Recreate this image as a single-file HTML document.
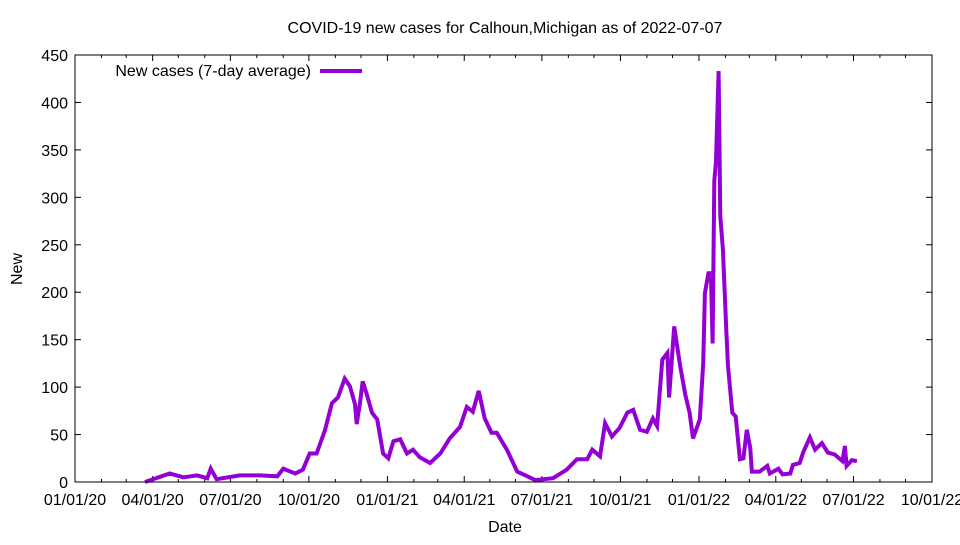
<!DOCTYPE html>
<html><head><meta charset="utf-8"><style>
body{margin:0;background:#fff;}
svg text{font-family:"Liberation Sans",sans-serif;font-size:16px;fill:#000;}
</style></head><body>
<svg id="chart" width="960" height="540">
<text x="505" y="33" text-anchor="middle">COVID-19 new cases for Calhoun,Michigan as of 2022-07-07</text>
<text x="505" y="532" text-anchor="middle">Date</text>
<text transform="translate(22,269) rotate(-90)" text-anchor="middle">New</text>
<g id="axes"></g>
<g id="series"></g>
<g>
<text x="311" y="76" text-anchor="end">New cases (7-day average)</text>
<line x1="320" y1="71" x2="362" y2="71" stroke="#9400d3" stroke-width="4"/>
</g>
<rect x="75" y="55" width="857" height="427" fill="none" stroke="#000" stroke-width="1"/>
</svg>
<script>
const days=[82,111,127,143,155,159,166,193,217,237,244,258,267,275,283,293,301,308,316,322,328,330,334,337,342,348,354,361,367,373,381,389,396,404,416,428,439,451,459,466,473,480,488,494,506,518,530,539,560,576,588,600,606,615,621,629,638,647,654,662,670,677,682,688,694,696,702,709,715,720,724,732,736,738,742,745,747,749,751,754,756,759,763,765,770,774,779,783,787,791,793,802,811,814,824,829,838,841,849,853,861,867,875,882,890,899,902,904,910,916];
const values=[0,9,5,7,4,14,3,7,7,6,14,9,13,30,30,55,83,89,109,101,82,61,84,106,92,73,66,30,25,43,45,30,34,26,20,30,46,58,79,74,96,67,52,52,34,11,6,2,4,13,24,24,34,27,62,48,57,73,76,55,53,67,59,129,136,89,164,122,92,73,46,66,125,199,220,220,146,317,338,433,280,245,160,122,73,69,24,25,55,36,11,11,17,9,14,8,9,18,20,31,47,34,41,31,29,22,38,17,23,22];
const yTicks=[0,50,100,150,200,250,300,350,400,450];
const xTickDays=[0,91,182,274,366,456,547,639,731,821,912,1004];
const xTickLabels=["01/01/20","04/01/20","07/01/20","10/01/20","01/01/21","04/01/21","07/01/21","10/01/21","01/01/22","04/01/22","07/01/22","10/01/22"];
const minorDays=[31,60,121,152,213,244,305,335,397,425,486,516,578,608,670,700,762,790,851,881,943,973];
const X0=75,X1=932,Y0=482,Y1=55,DMAX=1004,VMAX=450;
function xs(d){return X0+(d/DMAX)*(X1-X0);}
function ys(v){return Y0-(v/VMAX)*(Y0-Y1);}
const NS="http://www.w3.org/2000/svg";
const axes=document.getElementById('axes');
function mk(tag,attrs,parent){const e=document.createElementNS(NS,tag);for(const k in attrs)e.setAttribute(k,attrs[k]);parent.appendChild(e);return e;}
yTicks.forEach(v=>{
  const y=ys(v);
  const t=mk('line',{x1:X0,x2:X0+6,y1:y,y2:y,stroke:'#000'},axes);
  
  
  const t2=mk('line',{x1:X1-6,x2:X1,y1:y,y2:y,stroke:'#000'},axes);
  
  
  const l=mk('text',{x:X0-7,y:y+6,'text-anchor':'end'},axes);
  l.textContent=v;
  
  
});
xTickDays.forEach((d,i)=>{
  const x=xs(d);
  const t=mk('line',{x1:x,x2:x,y1:Y0,y2:Y0-6,stroke:'#000'},axes);
  
  
  const t2=mk('line',{x1:x,x2:x,y1:Y1,y2:Y1+6,stroke:'#000'},axes);
  
  
  const l=mk('text',{x:x,y:505,'text-anchor':'middle'},axes);
  l.textContent=xTickLabels[i];
  
  
});
minorDays.forEach(d=>{
  const x=xs(d);
  const t=mk('line',{x1:x,x2:x,y1:Y0,y2:Y0-3,stroke:'#000'},axes);
  
  
  const t2=mk('line',{x1:x,x2:x,y1:Y1,y2:Y1+3,stroke:'#000'},axes);
  
  
});
const pts=days.map((d,i)=>xs(d).toFixed(1)+','+ys(values[i]).toFixed(1)).join(' ');
const line=mk('polyline',{points:pts,fill:'none',stroke:'#9400d3','stroke-width':4,'stroke-linejoin':'miter'},document.getElementById('series'));


</script>
</body></html>
